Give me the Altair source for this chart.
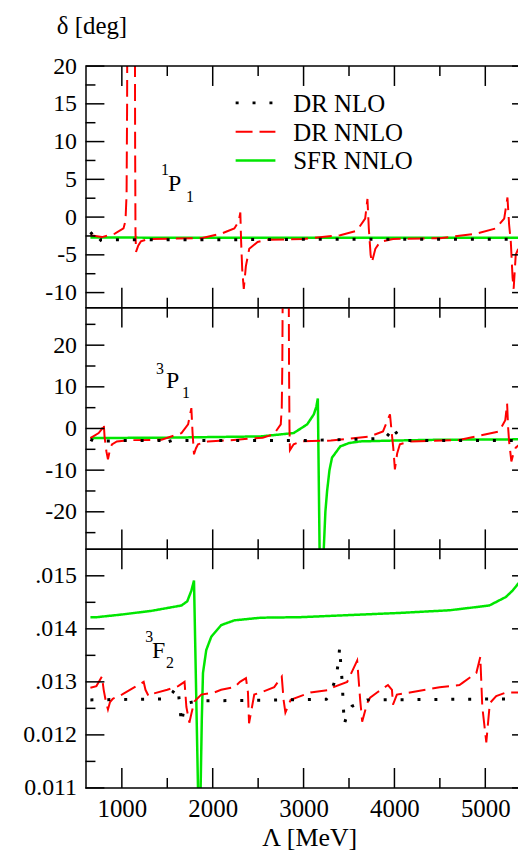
import altair as alt
import pandas as pd

FONT = "Liberation Serif"
W = 435
H1, H2, H3 = 243, 243, 240
XDOM = [600, 5360]

GREEN = "#00e600"
RED = "#ff0000"
BLACK = "#000000"

# ---------------- tick values ----------------
x_major = [1000, 2000, 3000, 4000, 5000]
x_minor = [1500, 2500, 3500, 4500]

p1_ymajor = [-10, -5, 0, 5, 10, 15, 20]
p1_yminor = [-7.5, -2.5, 2.5, 7.5, 12.5, 17.5]
p1_ydom = [-12, 20]

p2_ymajor = [-20, -10, 0, 10, 20]
p2_yminor = [-25, -15, -5, 5, 15, 25]
p2_ydom = [-29, 29]

p3_ymajor = [0.011, 0.012, 0.013, 0.014, 0.015]
p3_yminor = [0.0115, 0.0125, 0.0135, 0.0145]
p3_ydom = [0.011, 0.0155]

# ---------------- panel 1: 1P1 ----------------
p1_nlo_L = [654, 700, 727, 770, 1000, 2000, 3000, 4000, 5000, 5400]
p1_nlo_d = [-2.0, -2.6, -3.5, -3.0, -3.0, -3.0, -2.95, -2.95, -2.95, -2.95]

p1_nnlo_L = [654, 781, 923, 1018, 1040, 1052, 1058, 1062, 1142, 1146, 1150, 1156,
             1180, 1210, 1300, 1600, 1874, 2093, 2238, 2285, 2304, 2312, 2325, 2342,
             2365, 2402, 2494, 2600, 3000, 3404, 3587, 3678, 3703, 3718, 3738, 3752,
             3790, 3842, 3984, 4500, 4898, 5117, 5208, 5244, 5262, 5281, 5300, 5312,
             5335, 5370]
p1_nnlo_d = [-2.4, -2.65, -2.2, -1.5, -0.5, 3, 15, 40, 40, 10, -2, -4.6,
             -3.8, -3.2, -2.9, -2.85, -2.8, -2.2, -1.5, -0.6, 0.6, -3, -7, -9.5,
             -6.5, -4.2, -3.3, -3.0, -2.9, -2.4, -1.8, -0.2, 2.4, -1.5, -5, -6,
             -4.2, -3.3, -2.9, -2.8, -2.2, -1.5, -0.2, 2.6, -1.0, -3.3, -8, -9.5,
             -5, -4.0]

p1_sfr_L = [654, 2000, 4000, 5400]
p1_sfr_d = [-2.7, -2.75, -2.75, -2.75]

# ---------------- panel 2: 3P1 ----------------
p2_nlo_L = [654, 700, 1000, 1437, 1470, 1492, 1550, 3000, 3896, 3950, 3980, 4022,
            4080, 4148, 5400]
p2_nlo_d = [-2.6, -3.1, -2.9, -2.9, -2.0, -3.3, -2.9, -2.9, -2.4, -1.0, 0.5, -1.1,
            -2.6, -2.9, -2.9]

p2_nnlo_L = [654, 745, 785, 800, 810, 830, 847, 870, 891, 945, 1100, 1437, 1656,
             1729, 1765, 1778, 1794, 1815, 1838, 1947, 2200, 2550, 2672, 2749, 2760,
             2766, 2772, 2836, 2840, 2845, 2850, 2891, 2967, 3300, 3732, 3874, 3951,
             3970, 3987, 4005, 4030, 4060, 4170, 4700, 5008, 5153, 5220, 5240, 5252,
             5262, 5287, 5310, 5335, 5370]
p2_nnlo_d = [-2.3, -1.1, 0, 1.3, -2, -5.5, -7.4, -5, -3.8, -3.1, -2.8, -2.7, -1.1,
             1.0, 4.9, -1, -6.2, -4.8, -3.8, -3.1, -2.8, -2.2, -1.4, 1.0, 5,
             15, 40, 40, 15, 0, -5.2, -3.8, -3.1, -2.9, -1.9, -0.7, 3.4,
             -1, -4.6, -9.8, -6, -3.8, -3.1, -2.8, -1.4, -0.7, 2, 6, 0,
             -3.1, -7.9, -6, -4.6, -4]

p2_sfr_L = [654, 1500, 2530, 2891, 3040, 3113, 3140, 3157, 3182, 3212, 3222, 3240,
            3259, 3285, 3313, 3404, 3500, 3623, 3984, 4500, 5400]
p2_sfr_d = [-2.3, -2.2, -1.9, -1.1, 1.0, 3.4, 5.2, 7.2, -40, -40, -29, -20,
            -15, -10, -7, -4.3, -3.5, -3.1, -2.9, -2.7, -2.6]

# ---------------- panel 3: 3F2 ----------------
p3_nlo_L = [654, 1500, 1560, 1600, 1620, 1640, 1656, 1680, 1720, 1842, 3250, 3300,
            3360, 3385, 3397, 3410, 3426, 3434, 3448, 3490, 3532, 3700, 5400]
p3_nlo_d = [0.01266, 0.01268, 0.0128, 0.0129, 0.01285, 0.0125, 0.01222, 0.01245,
            0.0126, 0.01264, 0.01267, 0.0128, 0.0131, 0.0134, 0.01365, 0.01332,
            0.01298, 0.01267, 0.0122, 0.01245, 0.01254, 0.01266, 0.01268]

p3_nnlo_L = [654, 720, 781, 800, 825, 847, 870, 900, 1000, 1150, 1240, 1260, 1295,
             1350, 1500, 1620, 1690, 1710, 1743, 1765, 1798, 1874, 2016, 2093, 2238,
             2300, 2366, 2388, 2400, 2457, 2530, 2677, 2760, 2780, 2800, 2858, 3076,
             3295, 3330, 3480, 3590, 3623, 3645, 3700, 3732, 3809, 3929, 3973, 3984,
             4027, 4170, 4497, 4716, 4749, 4902, 4945, 4967, 5011, 5050, 5120, 5230,
             5370]
p3_nnlo_d = [0.01289, 0.01292, 0.0131, 0.01285, 0.01262, 0.01248, 0.01262, 0.01268,
             0.01276, 0.01291, 0.01300, 0.01285, 0.01273, 0.01278, 0.01285, 0.01292,
             0.01300, 0.01253, 0.01223, 0.01240, 0.01263, 0.01276, 0.01280, 0.01285,
             0.01290, 0.01300, 0.01307, 0.01280, 0.01222, 0.01276, 0.01280, 0.01290,
             0.01310, 0.01266, 0.01242, 0.01266, 0.01280, 0.01285, 0.01290, 0.01300,
             0.01340, 0.01266, 0.01225, 0.01260, 0.01270, 0.01280, 0.01294, 0.01285,
             0.01257, 0.01276, 0.01280, 0.01290, 0.01294, 0.01298, 0.01317, 0.01347,
             0.01253, 0.01186, 0.01260, 0.01273, 0.01280, 0.01280]

p3_sfr_L = [654, 726, 1000, 1328, 1656, 1720, 1765, 1794, 1838, 1843, 1862, 1867,
            1880, 1893, 1929, 1984, 2093, 2238, 2530, 2967, 4060, 4607, 5044, 5226,
            5300, 5361, 5400]
p3_sfr_d = [0.01422, 0.01422, 0.01427, 0.01434, 0.01444, 0.01452, 0.01472, 0.01491,
            0.0110, 0.0108, 0.0108, 0.0110, 0.0123, 0.01317, 0.0136, 0.01385,
            0.01407, 0.01416, 0.01421, 0.01422, 0.0143, 0.01435, 0.01444, 0.0146,
            0.01472, 0.01485, 0.01492]

legend_names = ["DR NLO", "DR NNLO", "SFR NNLO"]


def one():
    return alt.Chart(alt.Data(values=[{}]))


def panel(nlo, nnlo, sfr, ydom, ymaj, ymin, label_expr, H, texts,
          bottom=False, top=False):
    xs = alt.Scale(domain=XDOM, nice=False, zero=False)
    ys = alt.Scale(domain=ydom, nice=False, zero=False)

    yaxis_kw = dict(values=ymaj, labelExpr=label_expr, ticks=False, grid=False,
                    domain=True, domainColor="black", domainWidth=1.5,
                    labelFont=FONT, labelFontSize=24, labelColor="black",
                    labelPadding=9, labelOverlap=False)
    if top:
        yaxis_kw.update(title="δ [deg]", titleAngle=0, titleAlign="center",
                        titleBaseline="alphabetic", titleX=6, titleY=-33,
                        titleFont=FONT, titleFontSize=25, titleFontWeight="normal",
                        titleColor="black")
    else:
        yaxis_kw.update(title=None)
    yaxis = alt.Axis(**yaxis_kw)

    if bottom:
        xaxis = alt.Axis(values=x_major, format="d", ticks=False, grid=False,
                         domain=False, labelFont=FONT, labelFontSize=25,
                         labelColor="black", labelPadding=9, labelOverlap=False,
                         labelFlush=False,
                         title="Λ [MeV]", titleFont=FONT, titleFontSize=26,
                         titleFontWeight="normal", titleColor="black",
                         titleAlign="center", titleBaseline="alphabetic",
                         titleX=225, titleY=58)
    else:
        xaxis = None

    def line(L, d, color, dash, sw):
        df = pd.DataFrame({"L": L, "d": d})
        return alt.Chart(df).mark_line(color=color, strokeDash=dash, strokeWidth=sw,
                                       clip=True, strokeCap="butt").encode(
            x=alt.X("L:Q", scale=xs, axis=xaxis),
            y=alt.Y("d:Q", scale=ys, axis=yaxis),
        )

    layers = [
        line(sfr[0], sfr[1], GREEN, [1, 0], 2.5),
        line(nnlo[0], nnlo[1], RED, [17, 7], 2),
        line(nlo[0], nlo[1], BLACK, [3, 14], 3),
    ]

    def xticks(vals, y0, y1):
        return alt.Chart(pd.DataFrame({"L": vals})).mark_rule(
            color="black", strokeWidth=1.5).encode(
            x=alt.X("L:Q", scale=xs, axis=xaxis), y=alt.value(y0), y2=alt.value(y1))

    def yticks(vals, x0, x1):
        return alt.Chart(pd.DataFrame({"d": vals})).mark_rule(
            color="black", strokeWidth=1.5).encode(
            y=alt.Y("d:Q", scale=ys, axis=yaxis), x=alt.value(x0), x2=alt.value(x1))

    layers += [
        xticks(x_major, 0, 20), xticks(x_minor, 0, 10),
        xticks(x_major, H - 20, H), xticks(x_minor, H - 10, H),
        yticks(ymaj, 0, 19), yticks(ymin, 0, 10),
        yticks(ymaj, W - 6, W),
    ]
    # top and bottom frame lines
    for yy in (0, H):
        layers.append(one().mark_rule(color="black", strokeWidth=1.5).encode(
            x=alt.value(0), x2=alt.value(W), y=alt.value(yy)))

    for (t, px, py, fs) in texts:
        layers.append(one().mark_text(text=t, font=FONT, fontSize=fs, color="black",
                                      align="left", baseline="alphabetic").encode(
            x=alt.value(px), y=alt.value(py)))

    return layers


p1_texts = [("1", 76, 110, 16), ("P", 83, 126, 24), ("1", 101, 137, 16)]
p2_texts = [("3", 71, 67, 16), ("P", 81, 81, 24), ("1", 97, 91, 16)]
p3_texts = [("3", 60, 93, 16), ("F", 67, 109, 24), ("2", 81, 119, 16)]

lab12 = "datum.value < 0 ? '-' + abs(datum.value) : '' + datum.value"
lab3 = "datum.value > 0.0125 ? replace(format(datum.value, '.3f'), '0.', '.') : format(datum.value, '.3f')"

l1 = panel((p1_nlo_L, p1_nlo_d), (p1_nnlo_L, p1_nnlo_d), (p1_sfr_L, p1_sfr_d),
           p1_ydom, p1_ymajor, p1_yminor, lab12, H1, p1_texts, top=True)
l2 = panel((p2_nlo_L, p2_nlo_d), (p2_nnlo_L, p2_nnlo_d), (p2_sfr_L, p2_sfr_d),
           p2_ydom, p2_ymajor, p2_yminor, lab12, H2, p2_texts)
l3 = panel((p3_nlo_L, p3_nlo_d), (p3_nnlo_L, p3_nnlo_d), (p3_sfr_L, p3_sfr_d),
           p3_ydom, p3_ymajor, p3_yminor, lab3, H3, p3_texts, bottom=True)

# legend inside panel 1
leg_styles = [(BLACK, [3, 14], 3), (RED, [17, 7], 2), (GREEN, [1, 0], 2.5)]
for i, (name, (col, dash, sw)) in enumerate(zip(legend_names, leg_styles)):
    ysym = 37 + 29 * i
    l1.append(one().mark_rule(color=col, strokeDash=dash, strokeWidth=sw,
                              strokeCap="butt").encode(
        x=alt.value(151), x2=alt.value(191), y=alt.value(ysym)))
    l1.append(one().mark_text(text=name, font=FONT, fontSize=25, color="black",
                              align="left", baseline="alphabetic").encode(
        x=alt.value(209), y=alt.value(ysym + 9)))

c1 = alt.layer(*l1).properties(width=W, height=H1)
c2 = alt.layer(*l2).properties(width=W, height=H2)
c3 = alt.layer(*l3).properties(width=W, height=H3)

chart = alt.vconcat(c1, c2, c3, spacing=0, bounds="flush").properties(
    padding={"left": 23, "top": 11, "right": 0, "bottom": 0},
    background="white",
).configure_view(stroke=None)

chart.save("out.html", embed_options={"renderer": "svg", "actions": False})
